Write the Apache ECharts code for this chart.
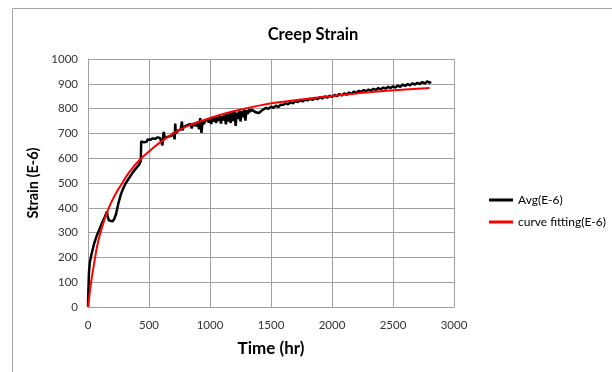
<!DOCTYPE html>
<html>
<head>
<meta charset="utf-8">
<script src="https://cdn.jsdelivr.net/npm/echarts@6/dist/echarts.min.js"></script>
<style>
  html, body { margin: 0; padding: 0; background: #fff; }
  #chart { width: 612px; height: 372px; }
</style>
</head>
<body>
<div id="chart"></div>
<script>
var avgTime = [0, 3, 8, 15, 25, 35, 50, 70, 95, 120, 140, 155, 160, 170, 185, 200, 215, 230, 250, 270,
  290, 310, 340, 370, 400, 420, 430, 433, 436,
  440, 450, 460, 470, 480, 490, 500, 510, 520, 530, 540, 550, 560, 570, 580, 590, 600, 610, 620, 630,
  640, 650, 660, 670, 680, 690, 700, 710, 715, 720, 730, 740, 750, 760, 770, 775, 780, 790, 800, 810,
  820, 830, 840, 850, 860, 870, 880, 890, 900, 910, 920, 930, 940, 950, 960, 970, 980, 990, 1000,
  1010, 1020, 1030, 1040, 1050, 1060, 1070, 1080, 1090, 1100, 1110, 1120, 1130, 1140, 1150, 1160,
  1170, 1180, 1190, 1200, 1210, 1220, 1230, 1240, 1250, 1260, 1270, 1280, 1290, 1300, 1310, 1320,
  1330, 1340, 1350, 1360, 1370, 1380, 1390, 1400, 1420, 1440,
  1460, 1480, 1500, 1520, 1540, 1560, 1580, 1600, 1620, 1640, 1660, 1680, 1700, 1720, 1740, 1760,
  1780, 1800, 1820, 1840, 1860, 1880, 1900, 1920, 1940, 1960, 1980, 2000, 2020, 2040, 2060, 2080,
  2100, 2120, 2140, 2160, 2180, 2200, 2220, 2240, 2260, 2280, 2300, 2320, 2340, 2360, 2380, 2400,
  2420, 2440, 2460, 2480, 2500, 2520, 2540, 2560, 2580, 2600, 2620, 2640, 2660, 2680, 2700, 2720,
  2740, 2760, 2780, 2800, 2810];
var avgStrain = [0, 60, 140, 180, 205, 225, 255, 285, 315, 345, 365, 385, 370, 350, 344, 345, 355, 375, 420, 455,
  480, 500, 522, 545, 563, 575, 580, 590, 668,
  662, 670, 664, 672, 666, 676, 668, 674, 670, 680, 672, 678, 674, 684, 676, 682, 690, 652, 706, 682,
  690, 686, 694, 688, 696, 692, 702, 676, 740, 700, 708, 712, 706, 716, 748, 712, 724, 718, 730, 722,
  734, 726, 738, 720, 742, 730, 744, 728, 748, 716, 762, 702, 752, 738, 750, 742, 756, 744, 758,
  738, 762, 748, 766, 742, 768, 750, 772, 740, 770, 752, 776, 736, 778, 748, 782,
  742, 786, 750, 792, 730, 784, 758, 796, 748, 790, 765, 798, 752, 794, 778, 798,
  786, 796, 788, 790, 786, 784, 782, 782, 790, 798,
  803, 799, 808, 803, 812, 806, 816, 815, 822, 817, 826, 821, 830, 826, 834, 829,
  837, 833, 840, 835, 843, 838, 846, 841, 849, 844, 852, 847, 855, 850, 859, 853,
  861, 856, 865, 859, 869, 863, 872, 867, 875, 870, 877, 872, 880, 875, 883, 877,
  885, 880, 888, 883, 890, 885, 893, 888, 897, 891, 899, 894, 902, 897, 904, 899,
  907, 901, 910, 903, 909];

// curve fitting
var fitTime = [0, 15, 30, 50, 75, 100, 130, 175, 225, 275, 340, 433, 500, 600, 750, 900, 1000,
  1200, 1400, 1600, 1800, 2000, 2200, 2400, 2600, 2800];
var fitStrain = [0, 60, 115, 175, 245, 295, 345, 405, 455, 495, 545, 598, 627, 667, 714, 745, 762,
  790, 812, 828, 840, 851, 861, 870, 877, 883];

var xTicks = { min: 0, max: 3000, step: 500 };
var yTicks = { min: 0, max: 1000, step: 100 };

function zip(a, b) {
  var out = [];
  for (var i = 0; i < a.length; i++) out.push([a[i], b[i]]);
  return out;
}

var chart = echarts.init(document.getElementById('chart'));
var font = 'Lato, "Open Sans", sans-serif';

var option = {
  animation: false,
  backgroundColor: '#fff',
  textStyle: { fontFamily: font },
  graphic: [{
    type: 'rect',
    shape: { x: 12.5, y: 8.5, width: 640, height: 400 },
    style: { fill: 'none', stroke: '#a6a6a6', lineWidth: 1 }
  }],
  title: {
    text: 'Creep Strain',
    left: 308,
    top: 21,
    textAlign: 'center',
    textStyle: { fontFamily: font, fontSize: 16.5, fontWeight: 'bold', color: '#000' }
  },
  legend: {
    orient: 'vertical',
    left: 484,
    top: 189,
    itemWidth: 24,
    itemHeight: 3,
    itemGap: 10,
    icon: 'rect',
    textStyle: { fontFamily: font, fontSize: 12, color: '#000' },
    data: ['Avg(E-6)', 'curve fitting(E-6)']
  },
  grid: { left: 88, right: 158, top: 59, bottom: 65 },
  xAxis: {
    type: 'value',
    min: xTicks.min,
    max: xTicks.max,
    interval: xTicks.step,
    name: 'Time (hr)',
    nameLocation: 'middle',
    nameGap: 33,
    nameTextStyle: { fontFamily: font, fontSize: 17, fontWeight: 'bold', color: '#000' },
    axisLine: { lineStyle: { color: '#a0a0a0' } },
    axisTick: { show: false },
    axisLabel: { fontSize: 11.5, color: '#333', margin: 12, formatter: function (v) { return String(v); } },
    splitLine: { lineStyle: { color: '#a0a0a0', width: 1 } }
  },
  yAxis: {
    type: 'value',
    min: yTicks.min,
    max: yTicks.max,
    interval: yTicks.step,
    name: 'Strain (E-6)',
    nameLocation: 'middle',
    nameGap: 40,
    nameTextStyle: { fontFamily: font, fontSize: 14.5, fontWeight: 'bold', color: '#000' },
    axisLine: { show: true, lineStyle: { color: '#a0a0a0' } },
    axisTick: { show: false },
    axisLabel: { fontSize: 11.5, color: '#333', margin: 10, formatter: function (v) { return String(v); } },
    splitLine: { lineStyle: { color: '#a0a0a0', width: 1 } }
  },
  series: [{
    name: 'Avg(E-6)',
    type: 'line',
    symbol: 'none',
    color: '#000',
    lineStyle: { color: '#000', width: 2.5 },
    data: zip(avgTime, avgStrain)
  }, {
    name: 'curve fitting(E-6)',
    type: 'line',
    symbol: 'none',
    smooth: true,
    color: '#ff0000',
    lineStyle: { color: '#ff0000', width: 2 },
    data: zip(fitTime, fitStrain)
  }]
};

chart.setOption(option);
</script>
</body>
</html>
